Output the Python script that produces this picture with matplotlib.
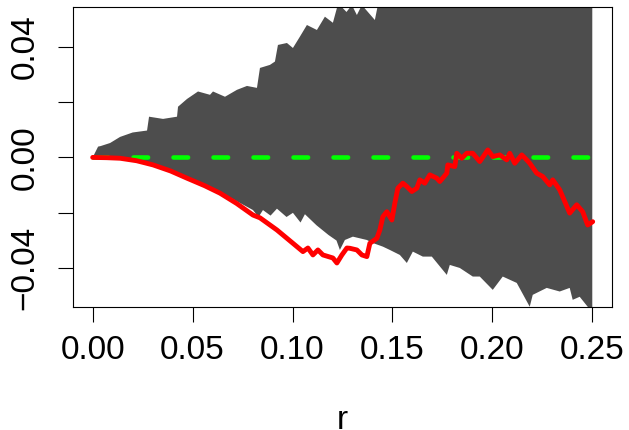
import numpy as np
import matplotlib
matplotlib.use('Agg')
import matplotlib.pyplot as plt

plt.rcParams['font.family'] = ['Liberation Sans', 'DejaVu Sans']
plt.rcParams['lines.scale_dashes'] = False

# upper edge of the simulation envelope
r_hi = [0.0, 0.0027, 0.004, 0.0087, 0.0137, 0.020, 0.0272, 0.0282, 0.0352,
        0.0422, 0.0427, 0.0472, 0.0527, 0.0587, 0.0602, 0.0662, 0.0722,
        0.0772, 0.0822, 0.0837, 0.0887, 0.0912, 0.0927, 0.0972, 0.1002,
        0.1037, 0.1072, 0.1122, 0.1162, 0.1202, 0.1222, 0.1237, 0.127,
        0.1297, 0.1322, 0.1347, 0.1412, 0.1427, 0.16, 0.18, 0.20, 0.22,
        0.24, 0.25]
hi = [0.0, 0.0039, 0.0041, 0.0052, 0.0074, 0.0090, 0.0097, 0.0147, 0.0139,
      0.0147, 0.0183, 0.0211, 0.0238, 0.0226, 0.0238, 0.0219, 0.0244,
      0.0258, 0.0251, 0.0323, 0.0334, 0.0346, 0.0406, 0.0413, 0.0395,
      0.0436, 0.0478, 0.0460, 0.0508, 0.0486, 0.0539, 0.0550, 0.0525,
      0.0550, 0.0514, 0.0550, 0.0496, 0.0550, 0.060, 0.064, 0.068, 0.071,
      0.074, 0.075]

# lower edge of the simulation envelope
r_lo = [0.0, 0.0137, 0.0302, 0.0472, 0.0637, 0.0802, 0.083, 0.0852, 0.089,
        0.0922, 0.097, 0.1002, 0.104, 0.1062, 0.112, 0.118, 0.122, 0.1237,
        0.1262, 0.1302, 0.1372, 0.1402, 0.1452, 0.1487, 0.1537, 0.1572,
        0.1602, 0.1652, 0.1697, 0.1772, 0.1787, 0.1837, 0.1902, 0.1937,
        0.2002, 0.2052, 0.2122, 0.2187, 0.2202, 0.2272, 0.2337, 0.2387,
        0.2402, 0.2437, 0.2477, 0.25]
lo = [0.0, 0.0001, -0.0023, -0.0071, -0.0125, -0.0190, -0.0215, -0.0190,
      -0.0210, -0.0185, -0.0215, -0.0200, -0.0235, -0.0205, -0.0245,
      -0.0280, -0.0300, -0.0334, -0.0298, -0.0286, -0.0298, -0.0309,
      -0.0322, -0.0334, -0.0352, -0.0381, -0.0340, -0.0358, -0.0358,
      -0.0424, -0.0388, -0.0399, -0.0430, -0.0430, -0.0478, -0.0430,
      -0.0453, -0.0539, -0.0496, -0.0471, -0.0484, -0.0471, -0.0514,
      -0.0503, -0.0539, -0.0560]

# observed curve
r_obs = [0.0, 0.007, 0.0137, 0.022, 0.0302, 0.039, 0.0472, 0.056, 0.0637,
         0.072, 0.0802, 0.0837, 0.0922, 0.1052, 0.1077, 0.1102, 0.1127,
         0.1152, 0.1202, 0.1222, 0.1247, 0.1272, 0.1287, 0.1322, 0.1347,
         0.1372, 0.1387, 0.1422, 0.1437, 0.1452, 0.1472, 0.1497, 0.1512,
         0.1527, 0.1552, 0.1572, 0.1597, 0.1622, 0.1637, 0.1662, 0.1687,
         0.1722, 0.1737, 0.1772, 0.1777, 0.1812, 0.1822, 0.1847, 0.1872,
         0.1902, 0.1937, 0.1977, 0.2002, 0.2037, 0.2072, 0.2087, 0.2112,
         0.2147, 0.2172, 0.2187, 0.2222, 0.2252, 0.2287, 0.2302, 0.2337,
         0.2387, 0.2422, 0.2452, 0.2477, 0.2502]
obs = [0.0, -0.0001, -0.0003, -0.0012, -0.0027, -0.0049, -0.0075, -0.0102,
       -0.0129, -0.0166, -0.0208, -0.0218, -0.0262, -0.0340, -0.0327,
       -0.0352, -0.0334, -0.0352, -0.0363, -0.0381, -0.0352, -0.0327,
       -0.0328, -0.0334, -0.0352, -0.0358, -0.0310, -0.0292, -0.0262,
       -0.0214, -0.0196, -0.0226, -0.0165, -0.0111, -0.0093, -0.0105,
       -0.0123, -0.0111, -0.0081, -0.0093, -0.0063, -0.0075, -0.0087,
       -0.0057, -0.0027, -0.0033, 0.0015, -0.0003, 0.0015, 0.0015, -0.0015,
       0.0027, 0.0003, 0.0009, -0.0009, 0.0015, -0.0021, 0.0009, -0.0009,
       -0.0021, -0.0057, -0.0069, -0.0099, -0.0081, -0.0117, -0.0201,
       -0.0171, -0.0196, -0.0244, -0.0232]

# theoretical value
r_theo = [0.0, 0.25]
theo = [0.0, 0.0]

xticks = [0.00, 0.05, 0.10, 0.15, 0.20, 0.25]
xlabels = ['0.00', '0.05', '0.10', '0.15', '0.20', '0.25']
yticks = [-0.04, -0.02, 0.0, 0.02, 0.04]
ylabels = ['\u22120.04', '', '0.00', '', '0.04']

fig = plt.figure(figsize=(6.29, 4.30), dpi=100)
ax = fig.add_axes([0.1156, 0.2860, 0.8578, 0.6984])

# shaded envelope
ax.fill(np.concatenate([r_hi, r_lo[::-1]]), np.concatenate([hi, lo[::-1]]),
        color='#4d4d4d', lw=0, zorder=1)

ax.plot(r_theo, theo, color='#00ff00', lw=3.3, dashes=(10.5, 18.3),
        dash_capstyle='round', zorder=2)
ax.plot(r_obs, obs, color='#ff0000', lw=3.5, solid_capstyle='round',
        solid_joinstyle='round', zorder=3)

ax.set_xlim(-0.01, 0.26)
ax.set_ylim(-0.054, 0.0544)

ax.set_xticks(xticks)
ax.set_xticklabels(xlabels)
ax.set_yticks(yticks)
ax.set_yticklabels(ylabels, rotation=90, va='center')
ax.tick_params(labelsize=24, length=11, width=0.8, direction='out')
ax.tick_params(axis='x', pad=9)
ax.tick_params(axis='y', pad=12)
ax.set_xlabel('r', fontsize=24, labelpad=28)

for s in ax.spines.values():
    s.set_linewidth(0.8)

fig.savefig('out.png', dpi=100)
